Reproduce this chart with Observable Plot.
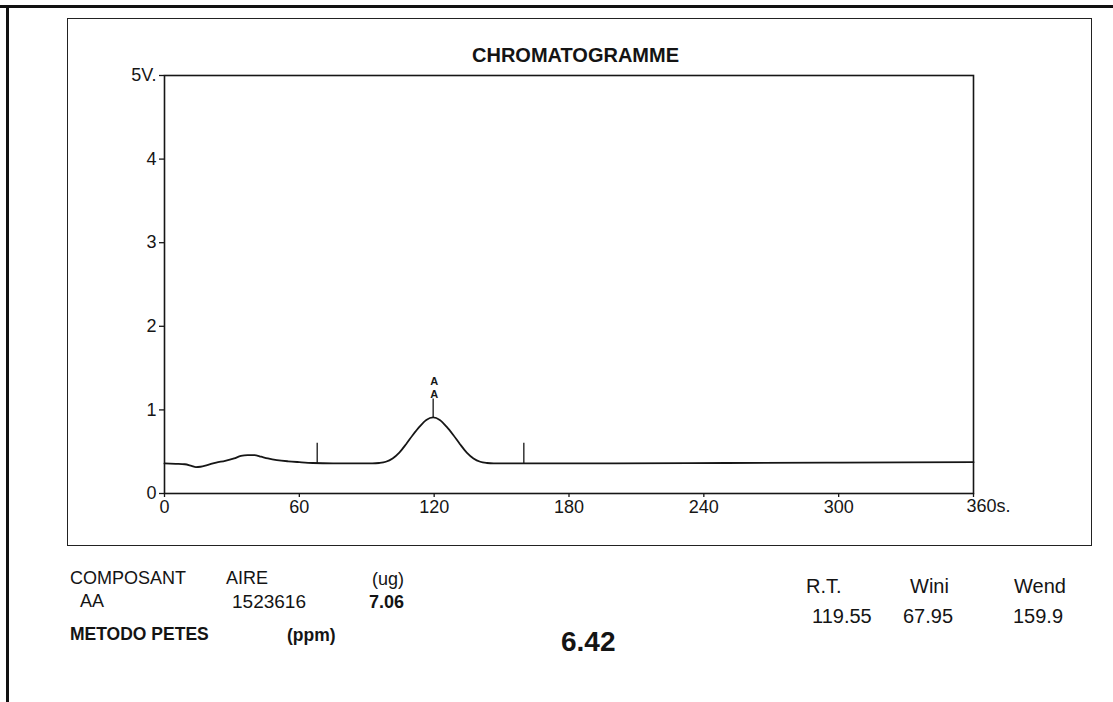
<!DOCTYPE html>
<html>
<head>
<meta charset="utf-8">
<script src="https://cdn.jsdelivr.net/npm/d3@7"></script>
<script src="https://cdn.jsdelivr.net/npm/@observablehq/plot@0.6"></script>
<style>
  body { margin: 0; background: #fff; }
  #page { position: relative; width: 1113px; height: 702px; overflow: hidden; background: #fff;
          font-family: "Liberation Sans", Arial, sans-serif; color: #141414; }
  #chart { position: absolute; left: 0; top: 0; }
  .edge { position: absolute; background: #111; }
  #sheet { position: absolute; left: 67px; top: 18px; width: 1025px; height: 528px;
           border: 1.5px solid #222; box-sizing: border-box; }
  .t { position: absolute; white-space: nowrap; line-height: 1; font-size: 17px; }
  .b { font-weight: bold; }
</style>
</head>
<body>
<div id="page">
  <div class="edge" style="left:0;top:5px;width:1113px;height:2.5px"></div>
  <div class="edge" style="left:6px;top:5px;width:2.5px;height:697px"></div>
  <div id="sheet"></div>
  <div id="chart"></div>
</div>
<script>
// Detector signal (seconds, volts)
const times = [0, 5, 9, 12, 14, 16, 19, 23, 27, 31, 34, 37, 40, 43, 46, 50, 55, 60, 66, 75, 85,
  92.5, 95.5, 98.5, 101.5, 104.5, 107.5, 110.5, 113.5, 116.5, 119.55, 122.5, 125.5, 128.5,
  131.5, 134.5, 137.5, 140.5, 143.5, 146.5, 160, 200, 250, 300, 360];
const volts = [0.36, 0.355, 0.35, 0.33, 0.315, 0.32, 0.34, 0.37, 0.39, 0.42, 0.45, 0.46, 0.46, 0.44, 0.42, 0.40, 0.385, 0.375, 0.365, 0.36, 0.36,
  0.36, 0.365, 0.38, 0.42, 0.49, 0.59, 0.70, 0.80, 0.88, 0.91, 0.88, 0.80, 0.70,
  0.59, 0.49, 0.42, 0.38, 0.365, 0.36, 0.36, 0.36, 0.365, 0.37, 0.375];

// Integration results
const componentName = "AA";
const peakArea = 1523616;
const massUg = "7.06";
const retentionTime = 119.55;
const windowStart = 67.95;
const windowEnd = 159.9;
const ppmResult = "6.42";

// Axis ticks
const xTicks = [0, 60, 120, 180, 240, 300, 360];
const yTicks = [0, 1, 2, 3, 4, 5];

// Window markers and the peak flag
const windowMarks = [
  {t: windowStart, base: 0.36, top: 0.60},
  {t: windowEnd, base: 0.36, top: 0.60}
];
const peakFlag = [{t: retentionTime, base: 0.91, top: 1.13}];
const peakLetters = [{t: retentionTime, v: 1.18, s: "A"}, {t: retentionTime, v: 1.335, s: "A"}];

const signal = times.map((t, i) => ({t, v: volts[i]}));
const ink = "#161616";

const chart = Plot.plot({
  width: 1113,
  height: 702,
  marginLeft: 164,
  marginRight: 140,
  marginTop: 75,
  marginBottom: 209,
  x: {domain: [0, 360]},
  y: {domain: [0, 5]},
  style: {fontFamily: "Liberation Sans, Arial, sans-serif", fontSize: "18px", color: ink, background: "transparent"},
  marks: [
    Plot.frame({stroke: ink, strokeWidth: 1.6}),
    Plot.axisY(yTicks, {tickSize: 5, tickPadding: 3, label: null, fontSize: 18,
      tickFormat: d => d === 5 ? "5V." : String(d), stroke: ink, strokeWidth: 1.3}),
    Plot.axisX(xTicks, {tickSize: 4, tickPadding: 3, label: null, fontSize: 18,
      tickFormat: d => d === 360 ? "" : String(d), stroke: ink, strokeWidth: 1.3}),
    Plot.text(["360s."], {x: 360, frameAnchor: "bottom", dy: 18, dx: -7, textAnchor: "start",
      text: d => d, fontSize: 18, fill: ink}),
    Plot.ruleX(windowMarks, {x: "t", y1: "base", y2: "top", stroke: ink, strokeWidth: 1.3}),
    Plot.ruleX(peakFlag, {x: "t", y1: "base", y2: "top", stroke: ink, strokeWidth: 1.3}),
    Plot.text(peakLetters, {x: "t", y: "v", text: "s", dx: 1, fontSize: 11, fontWeight: "bold", fill: ink}),
    Plot.line(signal, {x: "t", y: "v", curve: "monotone-x", stroke: ink, strokeWidth: 1.8})
  ]
});
document.getElementById("chart").append(chart);

// Header title and result table
const page = document.getElementById("page");
function put(text, x, cy, size, bold) {
  const el = document.createElement("div");
  el.className = "t" + (bold ? " b" : "");
  el.textContent = text;
  el.style.fontSize = size + "px";
  el.style.left = x + "px";
  el.style.top = (cy - 0.5 * size) + "px";
  page.append(el);
  return el;
}
put("CHROMATOGRAMME", 472, 55, 20, true);

put("COMPOSANT", 70, 578, 18);
put("AIRE", 226, 578, 18);
put("(ug)", 372, 579, 18);
put(componentName, 80, 601, 18);
put(String(peakArea), 232, 601, 19);
put(massUg, 369, 602, 18, true);

put("METODO PETES", 70, 635, 17.5, true);
put("(ppm)", 287, 636, 17.5, true);
put(ppmResult, 561, 642, 28, true);

put("R.T.", 806, 586, 20);
put("Wini", 910, 586, 20);
put("Wend", 1014, 586, 20);
put(retentionTime.toFixed(2), 812, 616, 20);
put(windowStart.toFixed(2), 903, 616, 20);
put(String(windowEnd), 1013, 616, 20);
</script>
</body>
</html>
